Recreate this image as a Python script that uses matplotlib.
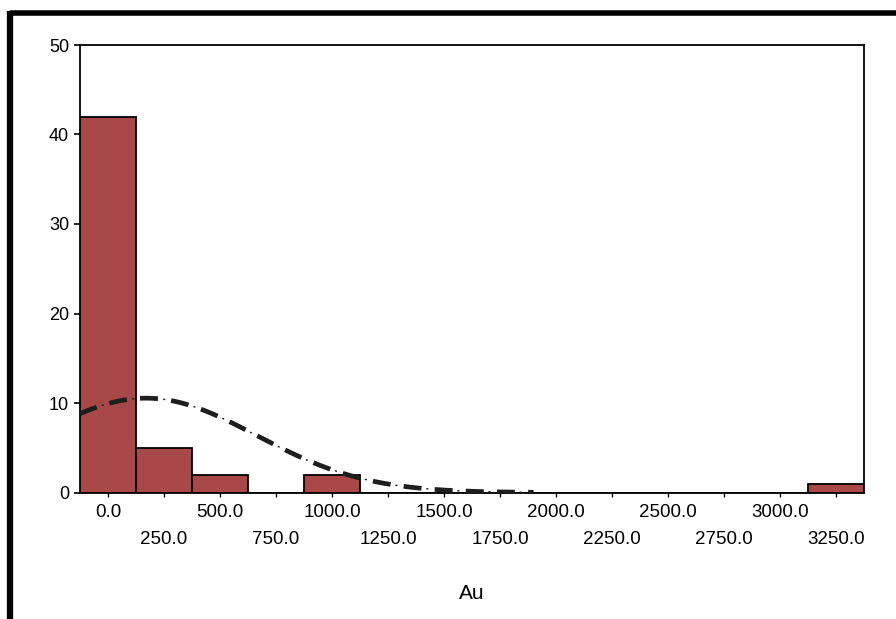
import numpy as np
import matplotlib
matplotlib.use("Agg")
import matplotlib.pyplot as plt
from matplotlib.lines import Line2D

# ---- data ----
bin_centers = [0, 250, 500, 750, 1000, 1250, 1500, 1750, 2000, 2250, 2500, 2750, 3000, 3250]
counts      = [42, 5, 2, 0, 2, 0, 0, 0, 0, 0, 0, 0, 0, 1]
bin_width = 250
n_total = 52
mean_au = 170.0
std_au = 492.0
curve_range = (-125, 1900)
x_major = [0, 500, 1000, 1500, 2000, 2500, 3000]
x_minor = [250, 750, 1250, 1750, 2250, 2750, 3250]
y_ticks = [0, 10, 20, 30, 40, 50]
x_label = "Au"

plt.rcParams['font.family'] = ['Liberation Sans', 'DejaVu Sans']

fig = plt.figure(figsize=(8.96, 6.19), dpi=100)
ax = fig.add_axes([80/896, 1-492.5/619, (864-80)/896, (492.5-45)/619])

# figure frame (thick black border top and left)
fig.add_artist(Line2D([10/896, 1.0], [1-13/619, 1-13/619], transform=fig.transFigure,
                      color='black', lw=4.0, solid_capstyle='butt'))
fig.add_artist(Line2D([10/896, 10/896], [0, 1-11/619], transform=fig.transFigure,
                      color='black', lw=4.5, solid_capstyle='butt'))

ax.bar(bin_centers, counts, width=bin_width, color='#a84848', edgecolor='black',
       linewidth=1.3, zorder=2)

xs = np.linspace(curve_range[0], curve_range[1], 400)
ys = n_total * bin_width / (std_au * np.sqrt(2 * np.pi)) * np.exp(-(xs - mean_au) ** 2 / (2 * std_au ** 2))
ax.plot(xs, ys, color='#1e1e1e', lw=3.4, linestyle=(0, (3.8, 2.8)), zorder=3,
        solid_capstyle='butt', dash_capstyle='butt')
ax.plot(xs, ys, color='#1e1e1e', lw=1.0, linestyle=(5.6, (1.5, 20.9)), zorder=3)

ax.set_xlim(-125, 3375)
ax.set_ylim(0, 50)
for s in ax.spines.values():
    s.set_linewidth(1.3)
    s.set_color('black')

ax.set_yticks(y_ticks)
ax.set_yticklabels([str(v) for v in y_ticks])
ax.tick_params(axis='y', length=4.3, width=1.2, pad=3.6, labelsize=13)

ax.set_xticks(x_major)
ax.set_xticklabels([f"{v:.1f}" for v in x_major])
ax.set_xticks(x_minor, minor=True)
ax.set_xticklabels([f"{v:.1f}" for v in x_minor], minor=True)
ax.tick_params(axis='x', which='major', length=3, width=1.0, pad=5.0, labelsize=13.5)
ax.tick_params(axis='x', which='minor', length=3, width=1.0, pad=24.5, labelsize=13.5)

ax.set_xlabel(x_label, fontsize=15, labelpad=26)

fig.savefig("out.png", dpi=100, facecolor='white')
